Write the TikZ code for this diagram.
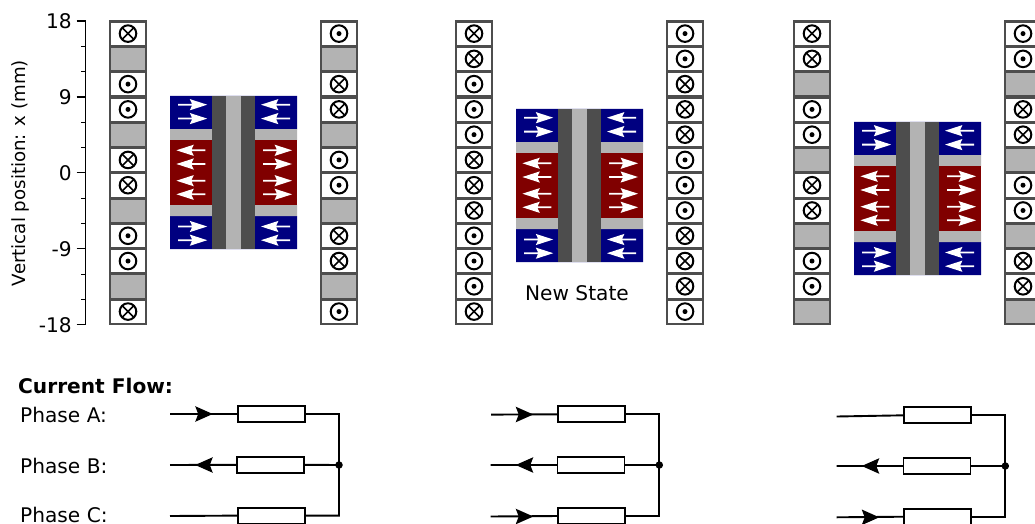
\documentclass[tikz,border=0pt]{standalone}
\usepackage{fontspec}
\setmainfont{DejaVu Sans}
\definecolor{framegray}{HTML}{4D4D4D}
\definecolor{softgray}{HTML}{B3B3B3}
\definecolor{magblue}{HTML}{000080}
\definecolor{magred}{HTML}{800000}
\tikzset{
  sym/.style={black,line width=2pt},
  label20/.style={font=\fontsize{20.15}{24}\selectfont,inner sep=0pt,text=black},
  wire/.style={black,line width=1.9pt},
  resbox/.style={draw=black,fill=white,line width=1.9pt,minimum width=67pt,minimum height=16pt,inner sep=0pt,outer sep=0pt},
  junction/.style={circle,fill=black,inner sep=0pt,minimum size=7.5pt},
  axisline/.style={black,line width=1.2pt},
}
\newcommand\slotcell[3]{\fill[#3] (#1,#2) rectangle ++(34.4,22.2);}
\newcommand\slotX[2]{\slotcell{#1}{#2}{white}
  \begin{scope}[shift={(#1+17.2,#2+10.9)}]
    \draw[sym] (0,0) circle (8.3pt);
    \draw[sym,line width=1.6pt] (-5.9,-5.9) -- (5.9,5.9) (-5.9,5.9) -- (5.9,-5.9);
  \end{scope}}
\newcommand\slotO[2]{\slotcell{#1}{#2}{white}
  \begin{scope}[shift={(#1+17.2,#2+10.9)}]
    \draw[sym] (0,0) circle (8.3pt);
    \fill[black] (0,0) circle (2.5pt);
  \end{scope}}
\newcommand\slotG[2]{\slotcell{#1}{#2}{softgray}}
\newcommand\slotcolumn[2]{%
  \fill[framegray] (#1,20) rectangle ++(37.4,305);
  \foreach \kind [count=\n from 0] in {#2} {
    \pgfmathsetmacro\rowy{22.7+25.27*\n}
    \csname slot\kind\endcsname{#1+1.5}{\rowy}
  }}
% white field arrow as a filled outline: tail x, y, direction
\newcommand\fieldarrow[3]{%
  \fill[white,shift={(#1,#2)},xscale=#3] (0,-0.9) -- (13.8,-0.9) -- (11.6,-5.6) -- (29,0) -- (11.6,5.6) -- (13.8,0.9) -- (0,0.9) -- cycle;}
\newcommand\magnetblock[2]{%
  \begin{scope}[shift={(#1,#2)}]
    \fill[magblue] (0,0) rectangle (127,33) (0,120) rectangle (127,153);
    \fill[softgray] (0,33) rectangle (127,44) (0,109) rectangle (127,120);
    \fill[magred] (0,44) rectangle (127,109);
    \fill[framegray] (42,0) rectangle (85,153);
    \fill[softgray] (56,0) rectangle (71,153);
    \foreach \ay in {8.7,22.6,130.5,144.2} {
      \fieldarrow{8.2}{\ay}{1}
      \fieldarrow{120}{\ay}{-1}
    }
    \foreach \ay in {54.3,68,84.7,98.3} {
      \fieldarrow{35.4}{\ay}{-1}
      \fieldarrow{93}{\ay}{1}
    }
  \end{scope}}
\newcommand\flowtip[3]{% x of centre, y, direction (+1 right, -1 left)
  \fill[black,shift={(#1,#2)},xscale=#3] (-8.8,-7.8) -- (8.8,0) -- (-8.8,7.8) -- (-5.8,0) -- cycle;}
\begin{document}
\begin{tikzpicture}[x=1pt,y=-1pt]
\path[use as bounding box,clip] (0,0) rectangle (1035,524);
\fill[white] (0,0) rectangle (1035,524);

% axis
\draw[axisline] (85.5,20.5) -- (85.5,325);
\foreach \ty in {21,97,172.8,248.8,324.6} \draw[axisline] (76.5,\ty) -- (85.5,\ty);
\foreach \ty in {46.3,71.6,122.3,147.6,198.1,223.4,274.1,299.4} \draw[axisline] (81,\ty) -- (85.5,\ty);
\node[label20,anchor=base east] (t1) at (72,28.5) {18};
\node[label20,anchor=base east] (t2) at (72,104.5) {9};
\node[label20,anchor=base east] (t3) at (72,180) {0};
\node[label20,anchor=base east] (t4) at (72,256) {-9};
\node[label20,anchor=base east] (t5) at (72,332) {-18};
\node[font=\fontsize{18.2}{22}\selectfont,inner sep=0pt,text=black,rotate=90] (ylab) at (20.6,173) {Vertical position: x (mm)};

% slot columns
\slotcolumn{109.3}{X,G,O,O,G,X,X,G,O,O,G,X}
\slotcolumn{320.3}{O,G,X,X,G,O,O,G,X,X,G,O}
\slotcolumn{455.3}{X,X,O,O,O,X,X,X,O,O,O,X}
\slotcolumn{666.3}{O,O,X,X,X,O,O,O,X,X,X,O}
\slotcolumn{793.3}{X,X,G,O,O,G,X,X,G,O,O,G}
\slotcolumn{1004.3}{O,O,G,X,X,G,O,O,G,X,X,G}

% magnets
\magnetblock{170}{96}
\magnetblock{516}{109}
\magnetblock{854}{122}

\node[label20,anchor=base] (state) at (577,300) {New State};

% labels
\node[label20,anchor=base west,font=\fontsize{20.15}{24}\selectfont\bfseries] (cf) at (18,393) {Current Flow:};
\node[label20,anchor=base west] (pa) at (20,422.7) {Phase A:};
\node[label20,anchor=base west] (pb) at (20,473.3) {Phase B:};
\node[label20,anchor=base west] (pc) at (20,522) {Phase C:};

% circuit 1
\node[resbox] (a1) at (271.5,414) {};
\node[resbox] (b1) at (270.8,464.8) {};
\node[resbox] (c1) at (271.5,515.6) {};
\node[junction] (j1) at (339,465) {};
\coordinate (a1s) at (170,414);
\coordinate (b1s) at (170,465);
\coordinate (c1s) at (170,516);
\draw[wire] (a1s) -- (a1.west) (b1s) -- (b1.west) (c1s) -- (c1.west);
\draw[wire] (a1.east) -| (j1.center) (c1.east) -| (j1.center) (b1.east) -- (j1.center);
\flowtip{204}{414}{1}
\flowtip{204}{465}{-1}

% circuit 2
\node[resbox] (a2) at (591.8,414.3) {};
\node[resbox] (b2) at (591,465) {};
\node[resbox] (c2) at (591.8,516) {};
\node[junction] (j2) at (659.3,465) {};
\coordinate (a2s) at (491,414.6);
\coordinate (b2s) at (490.5,465);
\coordinate (c2s) at (490.5,516.5);
\draw[wire] (a2s) -- (a2.west) (b2s) -- (b2.west) (c2s) -- (c2.west);
\draw[wire] (a2.east) -| (j2.center) (c2.east) -| (j2.center) (b2.east) -- (j2.center);
\flowtip{524.5}{414.5}{1}
\flowtip{524.5}{465}{-1}
\flowtip{524.5}{516.5}{1}

% circuit 3
\node[resbox] (a3) at (937.8,415.3) {};
\node[resbox] (b3) at (937,466) {};
\node[resbox] (c3) at (937.8,516.7) {};
\node[junction] (j3) at (1005.3,466) {};
\coordinate (a3s) at (836.7,416.5);
\coordinate (b3s) at (836.7,466);
\coordinate (c3s) at (836.7,517.3);
\draw[wire] (a3s) -- (a3.west) (b3s) -- (b3.west) (c3s) -- (c3.west);
\draw[wire] (a3.east) -| (j3.center) (c3.east) -| (j3.center) (b3.east) -- (j3.center);
\flowtip{870.5}{466}{-1}
\flowtip{870.5}{517.3}{1}
\end{tikzpicture}
\end{document}
